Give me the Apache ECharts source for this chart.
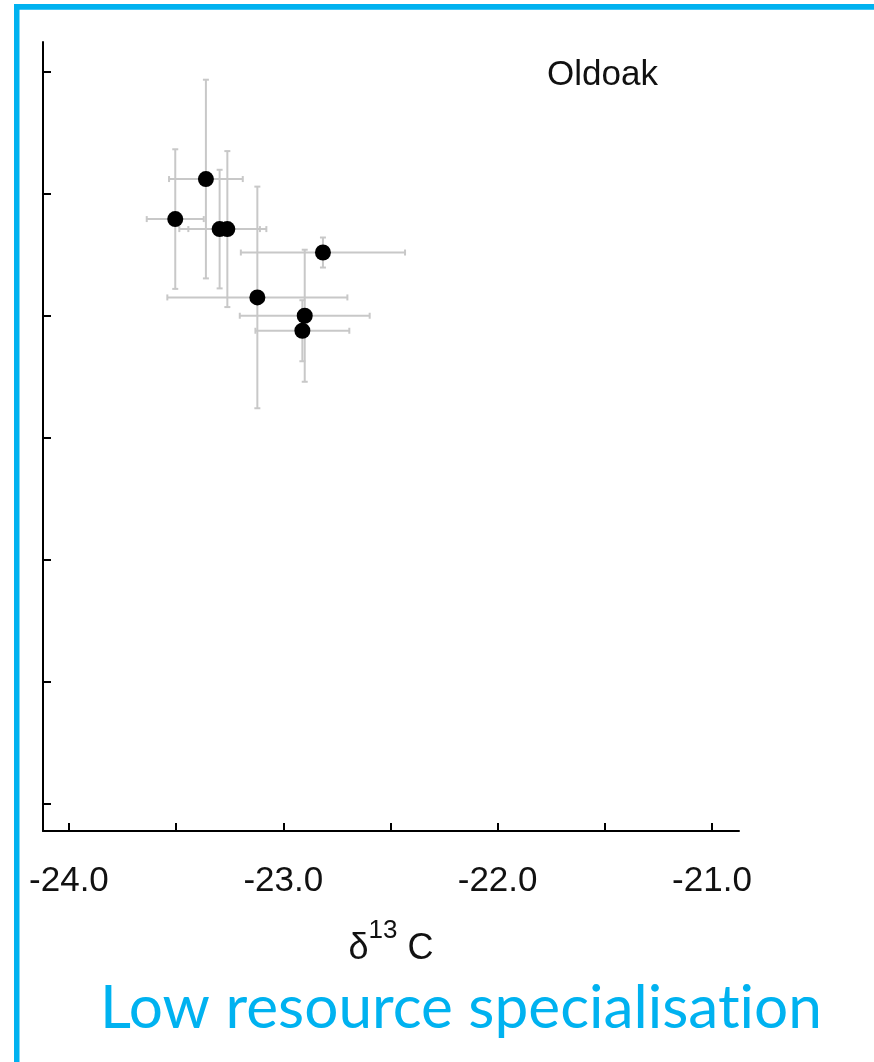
<!DOCTYPE html>
<html>
<head>
<meta charset="utf-8">
<script src="https://cdn.jsdelivr.net/npm/echarts@6/dist/echarts.min.js"></script>
<style>
  html, body { margin: 0; padding: 0; background: #ffffff; }
  #chart { width: 874px; height: 1062px; }
</style>
</head>
<body>
<div id="chart"></div>
<script>
// Oldoak: mean ± sd of carbon and nitrogen isotope values per group
const d13C    = [-23.361, -23.504, -23.297, -23.261, -22.815, -23.121, -22.900, -22.911];
const d13CSd  = [0.172, 0.133, 0.188, 0.182, 0.383, 0.420, 0.303, 0.219];
const d15N    = [11.118, 10.790, 10.708, 10.708, 10.516, 10.148, 9.998, 9.875];
const d15NSd  = [0.814, 0.572, 0.486, 0.639, 0.123, 0.908, 0.541, 0.250];

// axis ticks
const xTickValues  = [-24, -23.5, -23, -22.5, -22, -21.5, -21];
const xLabelValues = [-24, -23, -22, -21];
const yTickValues  = [6, 7, 8, 9, 10, 11, 12];

const siteName = 'Oldoak';
const caption = 'Low resource specialisation';

const BLUE = '#00b2f0';
const SANS = '"Liberation Sans", Arial, sans-serif';

const points = d13C.map((x, i) => [x, d15N[i], d13CSd[i], d15NSd[i]]);

// caption drawn in pieces so "t" and "i" stay separate glyphs
const captionFont = 'Lato, "Open Sans", sans-serif';
const captionSize = 60;
const cut = caption.lastIndexOf('ti') + 1;
const captionParts = [caption.slice(0, cut), caption.slice(cut)];
const mctx = document.createElement('canvas').getContext('2d');
mctx.font = captionSize + 'px ' + captionFont;
const captionWidth = captionParts.reduce((w, s) => w + mctx.measureText(s).width, 0);
const captionScale = 722 / captionWidth;

const chart = echarts.init(document.getElementById('chart'), null, { renderer: 'canvas' });

function renderErrorBar(params, api) {
  const x = api.value(0), y = api.value(1), sx = api.value(2), sy = api.value(3);
  const l = api.coord([x - sx, y]);
  const r = api.coord([x + sx, y]);
  const t = api.coord([x, y + sy]);
  const b = api.coord([x, y - sy]);
  const cap = 3;
  const style = { stroke: '#c8c8c8', lineWidth: 2 };
  const seg = (x1, y1, x2, y2) => ({ type: 'line', shape: { x1, y1, x2, y2 }, style });
  return {
    type: 'group',
    children: [
      seg(l[0], l[1], r[0], r[1]),
      seg(l[0], l[1] - cap, l[0], l[1] + cap),
      seg(r[0], r[1] - cap, r[0], r[1] + cap),
      seg(t[0], t[1], b[0], b[1]),
      seg(t[0] - cap, t[1], t[0] + cap, t[1]),
      seg(b[0] - cap, b[1], b[0] + cap, b[1])
    ]
  };
}

chart.setOption({
  backgroundColor: '#ffffff',
  animation: false,
  grid: { left: 43, top: 42, right: 135, bottom: 231, containLabel: false },
  xAxis: {
    type: 'value',
    min: -24.121,
    max: -20.874,
    splitLine: { show: false },
    axisLine: { onZero: false, lineStyle: { color: '#000', width: 2 } },
    axisTick: { inside: true, length: 8, customValues: xTickValues, lineStyle: { color: '#000', width: 2 } },
    axisLabel: {
      customValues: xLabelValues,
      formatter: v => v.toFixed(1),
      color: '#111', fontFamily: SANS, fontSize: 35, margin: 33
    },
    name: '{d|δ}{s|13}{c| C}',
    nameLocation: 'middle',
    nameGap: 87,
    nameTextStyle: {
      rich: {
        d: { fontFamily: SANS, fontSize: 36, color: '#111' },
        s: { fontFamily: SANS, fontSize: 26, color: '#111', padding: [0, 0, 36, 0] },
        c: { fontFamily: SANS, fontSize: 36, color: '#111' }
      }
    }
  },
  yAxis: {
    type: 'value',
    min: 5.776,
    max: 12.241,
    splitLine: { show: false },
    axisLine: { onZero: false, lineStyle: { color: '#000', width: 2 } },
    axisTick: { inside: true, length: 8, customValues: yTickValues, lineStyle: { color: '#000', width: 2 } },
    axisLabel: { show: false }
  },
  series: [
    {
      type: 'custom',
      renderItem: renderErrorBar,
      data: points,
      encode: { x: 0, y: 1 },
      z: 1
    },
    {
      type: 'scatter',
      data: points.map(p => [p[0], p[1]]),
      symbol: 'circle',
      symbolSize: 16,
      itemStyle: { color: '#000', opacity: 1 },
      z: 3
    }
  ],
  graphic: [
    { type: 'rect', left: 14, top: 4, shape: { width: 5.5, height: 1058 }, style: { fill: BLUE } },
    { type: 'rect', left: 14, top: 4, shape: { width: 860, height: 5.7 }, style: { fill: BLUE } },
    {
      type: 'text', x: 547, y: 75,
      style: { text: siteName, fontFamily: SANS, fontSize: 35, fill: '#111', verticalAlign: 'middle' }
    },
    {
      type: 'text', x: 100, y: 1009, scaleX: captionScale,
      style: {
        text: captionParts.map(s => '{p|' + s + '}').join(''),
        verticalAlign: 'middle',
        rich: { p: { fontFamily: captionFont, fontSize: captionSize, fill: BLUE, color: BLUE } }
      }
    }
  ]
});
</script>
</body>
</html>
